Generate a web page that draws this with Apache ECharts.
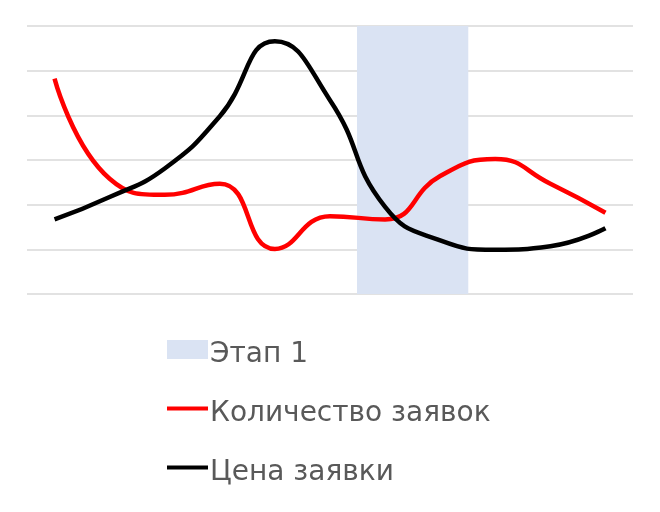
<!DOCTYPE html>
<html lang="ru">
<head>
    <meta charset="utf-8">
    <title>Этап 1</title>
    <script type="text/javascript" src="https://cdn.jsdelivr.net/npm/echarts@6/dist/echarts.min.js"></script>
    <style>
        html, body { margin: 0; padding: 0; background: #fff; }
    </style>
</head>
<body>
<div id="main" style="width: 660px;height:512px;"></div>
<script type="text/javascript">
    // данные графика
    var categories = ['1', '2', '3', '4', '5', '6', '7', '8', '9', '10', '11'];
    var stage1 = [null, null, null, null, null, null, 6, 6, null, null, null];
    var requestCount = [4.82, 2.58, 2.22, 2.47, 1.01, 1.74, 1.67, 2.64, 3.02, 2.47, 1.82];
    var requestPrice = [1.67, 2.17, 2.81, 3.98, 5.66, 4.34, 1.95, 1.2, 0.99, 1.07, 1.47];
    var seriesNames = ['Этап 1', 'Количество заявок', 'Цена заявки'];

    var lineIcon = 'path://M0,0H40V4H0Z';

    var myChart = echarts.init(document.getElementById('main'));

    var option = {
        animation: false,
        grid: {
            left: 27,
            right: 27,
            top: 26,
            bottom: 218
        },
        legend: {
            orient: 'vertical',
            left: 167,
            top: 340,
            padding: 0,
            itemWidth: 41,
            itemHeight: 19,
            itemGap: 31,
            formatter: '{t|{name}}',
            textStyle: {
                fontFamily: 'DejaVu Sans',
                fontSize: 28,
                color: '#595959',
                rich: {
                    t: {
                        fontFamily: 'DejaVu Sans',
                        fontSize: 28,
                        color: '#595959',
                        padding: [10, 0, 0, -3]
                    }
                }
            },
            data: [
                {name: seriesNames[0], icon: 'rect'},
                {name: seriesNames[1], icon: lineIcon},
                {name: seriesNames[2], icon: lineIcon}
            ]
        },
        xAxis: {
            type: 'category',
            data: categories,
            axisLine: {show: false},
            axisTick: {show: false},
            axisLabel: {show: false}
        },
        yAxis: {
            type: 'value',
            min: 0,
            max: 6,
            interval: 1,
            axisLabel: {show: false},
            splitLine: {
                lineStyle: {color: '#d9d9d9', width: 1.5}
            }
        },
        series: [
            {
                name: seriesNames[0],
                type: 'bar',
                data: stage1,
                barWidth: '102%',
                itemStyle: {color: '#dae3f3'}
            },
            {
                name: seriesNames[1],
                type: 'line',
                data: requestCount,
                smooth: true,
                symbol: 'none',
                lineStyle: {color: '#ff0000', width: 4.5},
                itemStyle: {color: '#ff0000'}
            },
            {
                name: seriesNames[2],
                type: 'line',
                data: requestPrice,
                smooth: true,
                symbol: 'none',
                lineStyle: {color: '#000000', width: 4.5},
                itemStyle: {color: '#000000'}
            }
        ]
    };
    myChart.setOption(option);
</script>
</body>
</html>
